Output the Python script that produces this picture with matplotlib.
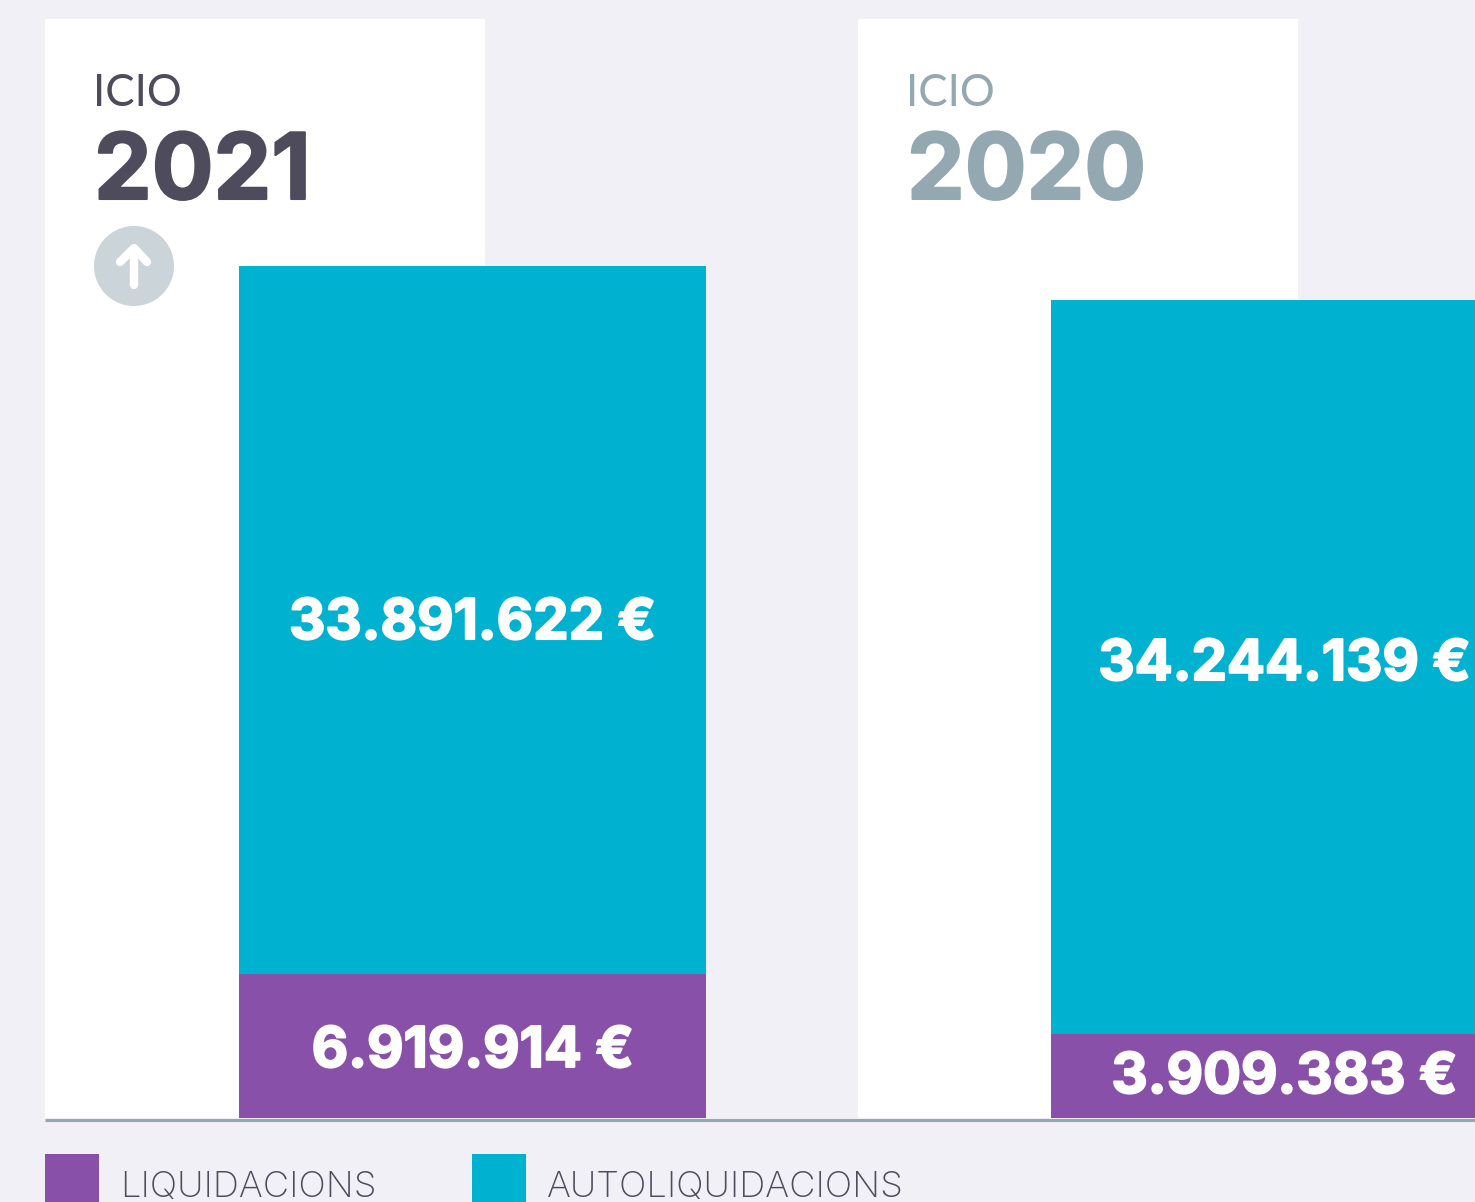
import matplotlib
matplotlib.use('Agg')
import matplotlib.pyplot as plt
import matplotlib.patheffects as pe
from matplotlib.patches import Rectangle, Circle

years = ['2021', '2020']
liquidacions_labels = ['6.919.914 €', '3.909.383 €']
autoliquidacions_labels = ['33.891.622 €', '34.244.139 €']

# bar heights as drawn in the picture, in millions (the 2020 bars are a bit
# taller than their printed amounts, so they are kept apart from the labels)
liquidacions = [6.90, 4.02]
autoliquidacions = [33.89, 35.14]

bg = '#f0f0f6'
purple = '#8850a8'
teal = '#00b2d0'
dark = '#4e4c5c'
grey = '#94a8b2'
year_colors = [dark, grey]

W, H = 1475, 1202
BASE = 1118
PX_PER_M = 20.89
CARD_LEFT = [45, 858]
BAR_LEFT = [239, 1051]
BAR_W = 467
TEXT_LEFT = [94, 907]

plt.rcParams['font.family'] = ['Inter', 'DejaVu Sans']

fig = plt.figure(figsize=(W / 100, H / 100), dpi=100, facecolor=bg)

# pixel layer for the cards, headings and legend
bg_ax = fig.add_axes([0, 0, 1, 1], zorder=1)
bg_ax.set_xlim(0, W)
bg_ax.set_ylim(H, 0)
bg_ax.axis('off')

for i, year in enumerate(years):
    bg_ax.add_patch(Rectangle((CARD_LEFT[i], 19), 440, BASE - 19, fc='white', ec='none'))

# bars, on a real value axis with zero on the baseline
ax = fig.add_axes([0, 1 - BASE / H, 1, BASE / H], zorder=2)
ax.set_xlim(0, W)
ax.set_ylim(0, BASE / PX_PER_M)
ax.axis('off')
ax.patch.set_alpha(0)
centers = [l + BAR_W / 2 for l in BAR_LEFT]
ax.bar(centers, liquidacions, width=BAR_W, color=purple)
ax.bar(centers, autoliquidacions, width=BAR_W, bottom=liquidacions, color=teal)

# top layer
top = fig.add_axes([0, 0, 1, 1], zorder=3)
top.set_xlim(0, W)
top.set_ylim(H, 0)
top.axis('off')
top.patch.set_alpha(0)

top.plot([45, W], [1119.5, 1119.5], color='#94a7b3', lw=2.2, solid_capstyle='butt')

for i, year in enumerate(years):
    top.text(TEXT_LEFT[i] - 1, 106, 'ICIO', fontsize=31.5, fontweight='normal', family=['Lato', 'DejaVu Sans'],
             color=year_colors[i], va='baseline', ha='left')
    t = top.text(TEXT_LEFT[i], 199, year, fontsize=66, fontweight='bold',
                 color=year_colors[i], va='baseline', ha='left')
    t.set_path_effects([pe.withStroke(linewidth=1.5, foreground=year_colors[i])])

# arrow badge
top.add_patch(Circle((134, 266), 40, fc='#cbd5d9', ec='none'))
top.plot([134, 134], [285, 249], color='white', lw=6, solid_capstyle='round')
top.plot([120, 134, 147], [262, 248, 262], color='white', lw=6,
         solid_capstyle='round', solid_joinstyle='round')

# value labels
aut_base = [639, 680]
liq_base = [1067, 1093]
for i in range(2):
    for txt, y in [(autoliquidacions_labels[i], aut_base[i]),
                   (liquidacions_labels[i], liq_base[i])]:
        t = top.text(centers[i], y, txt, fontsize=40.5, fontweight='bold',
                     color='white', ha='center', va='baseline')
        t.set_path_effects([pe.withStroke(linewidth=1.5, foreground='white')])

# legend
legend_names = ['LIQUIDACIONS', 'AUTOLIQUIDACIONS']
legend_colors = [purple, teal]
legend_x = [45, 472]
for name, c, x in zip(legend_names, legend_colors, legend_x):
    top.add_patch(Rectangle((x, 1154), 54, 48, fc=c, ec='none'))
    top.text(x + 75, 1197, name, fontsize=26.2, fontweight='light', color=dark,
             ha='left', va='baseline')

fig.savefig('out.png', dpi=100, facecolor=bg)
